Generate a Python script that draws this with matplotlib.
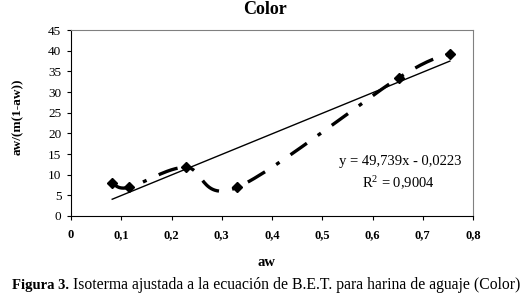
import numpy as np
import matplotlib
matplotlib.use("Agg")
import matplotlib.pyplot as plt

# =====================
# data
# =====================
aw = [0.082, 0.115, 0.228, 0.330, 0.653, 0.754]
bet = [8.0, 6.9, 11.8, 6.9, 33.5, 39.3]
slope = 49.739
intercept = -0.0223
r2_text = "R$^2$ = 0,9004"
eq_text = "y = 49,739x - 0,0223"
x_ticks = [0, 0.1, 0.2, 0.3, 0.4, 0.5, 0.6, 0.7, 0.8]
y_ticks = [0, 5, 10, 15, 20, 25, 30, 35, 40, 45]

plt.rcParams["font.family"] = ["Liberation Serif", "DejaVu Serif"]
plt.rcParams["mathtext.fontset"] = "custom"
plt.rcParams["mathtext.rm"] = "Liberation Serif"
plt.rcParams["mathtext.it"] = "Liberation Serif"


def smooth(xs, ys, n=30):
    # catmull-rom style curve, like excel's smoothed line
    xs = np.asarray(xs, float)
    ys = np.asarray(ys, float)
    px = np.concatenate([[xs[0]], xs, [xs[-1]]])
    py = np.concatenate([[ys[0]], ys, [ys[-1]]])
    out_x, out_y = [], []
    t = np.linspace(0, 1, n)
    for i in range(1, len(px) - 2):
        p0x, p1x, p2x, p3x = px[i - 1:i + 3]
        p0y, p1y, p2y, p3y = py[i - 1:i + 3]
        b1x = p1x + (p2x - p0x) / 6
        b1y = p1y + (p2y - p0y) / 6
        b2x = p2x - (p3x - p1x) / 6
        b2y = p2y - (p3y - p1y) / 6
        cx = (1 - t) ** 3 * p1x + 3 * (1 - t) ** 2 * t * b1x + 3 * (1 - t) * t ** 2 * b2x + t ** 3 * p2x
        cy = (1 - t) ** 3 * p1y + 3 * (1 - t) ** 2 * t * b1y + 3 * (1 - t) * t ** 2 * b2y + t ** 3 * p2y
        out_x.extend(cx)
        out_y.extend(cy)
    return out_x, out_y


fig = plt.figure(figsize=(5.24, 3.01), dpi=100)
ax = fig.add_axes([0.1355, 0.2824, 0.7672, 0.6179])

sx, sy = smooth(aw, bet)
ax.plot(sx, sy, color="black", lw=2.4, dashes=(6, 4, 1.2, 4), zorder=2)
ax.plot(aw, bet, ls="none", marker="D", ms=5.5, color="black", zorder=3)

fx = np.array([aw[0], aw[-1]])
ax.plot(fx, slope * fx + intercept, color="black", lw=1.0, zorder=2)

ax.set_xlim(0, 0.8)
ax.set_ylim(0, 45)
ax.set_xticks(x_ticks)
ax.set_yticks(y_ticks)
ax.set_xticklabels([("%g" % v).replace(".", ",") for v in x_ticks], fontweight="bold")
ax.set_yticklabels([str(v) for v in y_ticks])
ax.tick_params(labelsize=9.5, direction="out", length=3, width=0.8)
ax.tick_params(axis="y", pad=4)
ax.tick_params(axis="x", labelsize=9, pad=13)
for lbl in ax.get_xticklabels():
    lbl.set_verticalalignment("baseline")

for s in ["top", "right"]:
    ax.spines[s].set_color("#808080")
    ax.spines[s].set_linewidth(0.8)
for s in ["left", "bottom"]:
    ax.spines[s].set_color("black")
    ax.spines[s].set_linewidth(0.8)

ax.set_xlabel("aw", fontsize=10.5, fontweight="bold")
ax.xaxis.set_label_coords(0.487, -0.215)
ax.set_ylabel("aw/(m(1-aw))", fontsize=9.5, fontweight="bold")
ax.yaxis.set_label_coords(-0.117, 0.535)
fig.text(0.506, 0.97, "Color", ha="center", va="center", fontsize=13, fontweight="bold")

ax.text(0.656, 13.1, eq_text, ha="center", va="center", fontsize=10.5)
ax.text(0.651, 8.0, r2_text, ha="center", va="center", fontsize=10.5)

fig.text(0.022, 0.053, "Figura 3.", ha="left", va="center", fontsize=10.5, fontweight="bold")
fig.text(0.139, 0.053, "Isoterma ajustada a la ecuación de B.E.T. para harina de aguaje (Color)",
         ha="left", va="center", fontsize=11.3)

fig.savefig("out.png", dpi=100)
